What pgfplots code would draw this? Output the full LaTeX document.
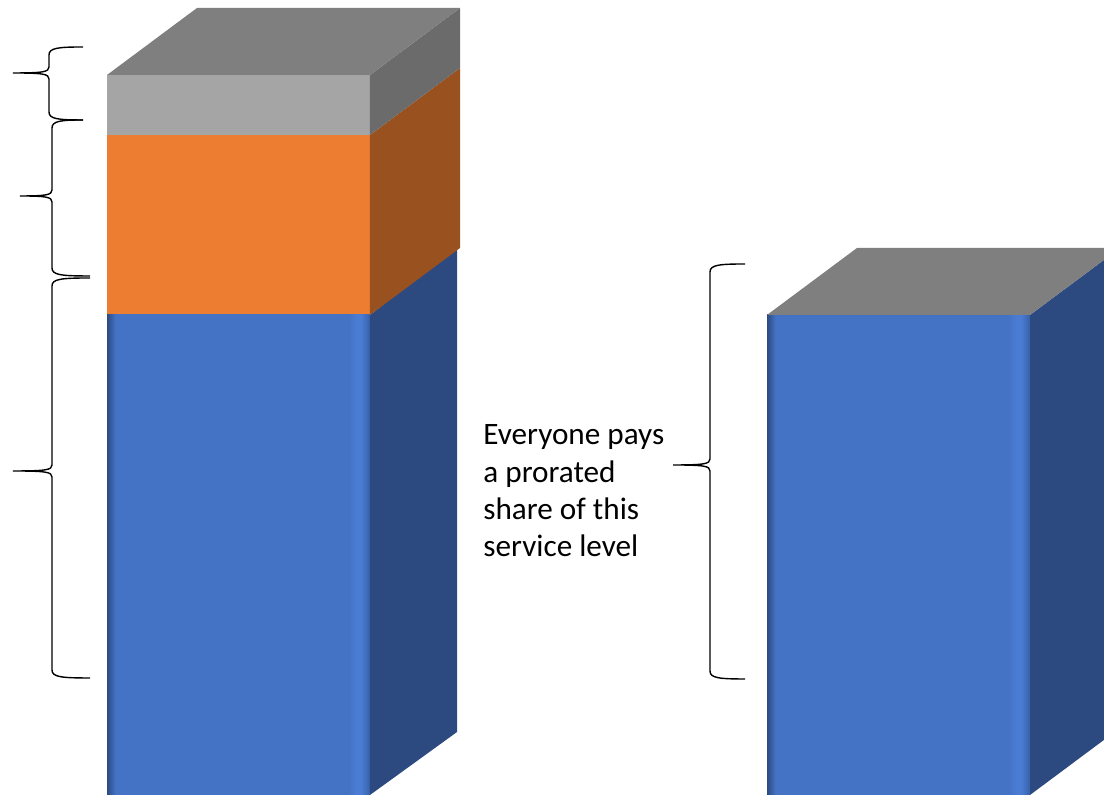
\documentclass[border=0pt]{standalone}
\usepackage{fontspec}
\setmainfont{Carlito}
\usepackage{pgfplots}
\pgfplotsset{compat=1.18}

\definecolor{blueF}{HTML}{4472C4}
\definecolor{blueL}{HTML}{4A7CD4}
\definecolor{blueE}{HTML}{3760A8}
\definecolor{blueS}{HTML}{2C4A7F}
\definecolor{orangeF}{HTML}{ED7D31}
\definecolor{orangeS}{HTML}{9A5120}
\definecolor{grayF}{HTML}{A5A5A5}
\definecolor{grayS}{HTML}{6B6B6B}
\definecolor{topC}{HTML}{7F7F7F}

% front of a blue bar: dark left edge, light band near the right edge
\pgfdeclarehorizontalshading{bluebar}{100bp}{%
  color(0bp)=(blueS); color(25bp)=(blueS); color(26.6bp)=(blueF);
  color(71bp)=(blueF); color(72.3bp)=(blueL); color(73.3bp)=(blueL);
  color(75bp)=(blueE); color(100bp)=(blueE)}

% brace opening to the right, tip on the left (pixel units)
% #1 top end x, #2 top y, #3 stem x, #4 tip x, #5 tip y, #6 bottom end x, #7 bottom y
\newcommand{\leftbrace}[7]{%
  \draw[line width=0.7pt] (#1,#2) .. controls (#3+9,#2) and (#3,#2+1) .. (#3,#2+8)
    -- (#3,#5-6) .. controls (#3,#5-1) and (#3-6,#5) .. (#4,#5)
    .. controls (#3-6,#5) and (#3,#5+1) .. (#3,#5+6)
    -- (#3,#7-8) .. controls (#3,#7-1) and (#3+9,#7) .. (#6,#7);}

\begin{document}
\begin{tikzpicture}
\begin{axis}[
    width=552pt, height=397.5pt, scale only axis,
    xmin=-0.36136, xmax=1.31136,
    ymin=0, ymax=13.25,
    hide axis, clip=true,
    every axis plot/.append style={draw=none},
]
% front faces (cumulative heights: base 8, +3, +1)
\addplot[ybar, bar width=0.39848, bar shift=0pt, fill=grayF] coordinates {(0,12)};
\addplot[ybar, bar width=0.39848, bar shift=0pt, fill=orangeF] coordinates {(0,11)};
\addplot[ybar, bar width=0.39848, bar shift=0pt, shading=bluebar] coordinates {(0,8)};
\addplot[ybar, bar width=0.39848, bar shift=0pt, shading=bluebar] coordinates {(1,8)};

% side faces, left bar
\addplot[fill=blueS] coordinates {(0.19924,0) (0.3311,1.05) (0.3311,9.13) (0.19924,8)} -- cycle;
\addplot[fill=orangeS] coordinates {(0.19924,8) (0.33561,9.1167) (0.33561,12.1167) (0.19924,11)} -- cycle;
\addplot[fill=grayS] coordinates {(0.19924,11) (0.33561,12.1167) (0.33561,13.1167) (0.19924,12)} -- cycle;
\addplot[fill=topC] coordinates {(-0.19924,12) (0.19924,12) (0.33561,13.1167) (-0.06287,13.1167)} -- cycle;

% side and top faces, right bar
\addplot[fill=blueS] coordinates {(1.19924,0) (1.33561,1.1167) (1.33561,9.1167) (1.19924,8)} -- cycle;
\addplot[fill=topC] coordinates {(0.80076,8) (1.19924,8) (1.33561,9.1167) (0.93713,9.1167)} -- cycle;

\coordinate (bl) at (rel axis cs:0,0);
\coordinate (tr) at (rel axis cs:1,1);
\end{axis}

\begin{scope}[shift={(bl)}, yshift=397.5pt, x=0.5pt, y=-0.5pt]
  \leftbrace{83}{47}{49}{13}{73}{83}{120}
  \leftbrace{83}{120}{52}{20}{196}{90}{276}
  \leftbrace{90}{278}{52}{13}{471}{90}{678}
  \leftbrace{745}{264}{710}{673}{465}{745}{679}
  \begin{scope}[every node/.style={anchor=base west, inner sep=0pt,
        font=\fontsize{15.6pt}{18.75pt}\selectfont}]
    \node at (483,444.5) {Everyone pays};
    \node at (483,482.5) {a prorated};
    \node at (483,520) {share of this};
    \node at (483,557) {service level};
  \end{scope}
\end{scope}

\pgfresetboundingbox
\path (bl) rectangle (tr);
\end{tikzpicture}
\end{document}
